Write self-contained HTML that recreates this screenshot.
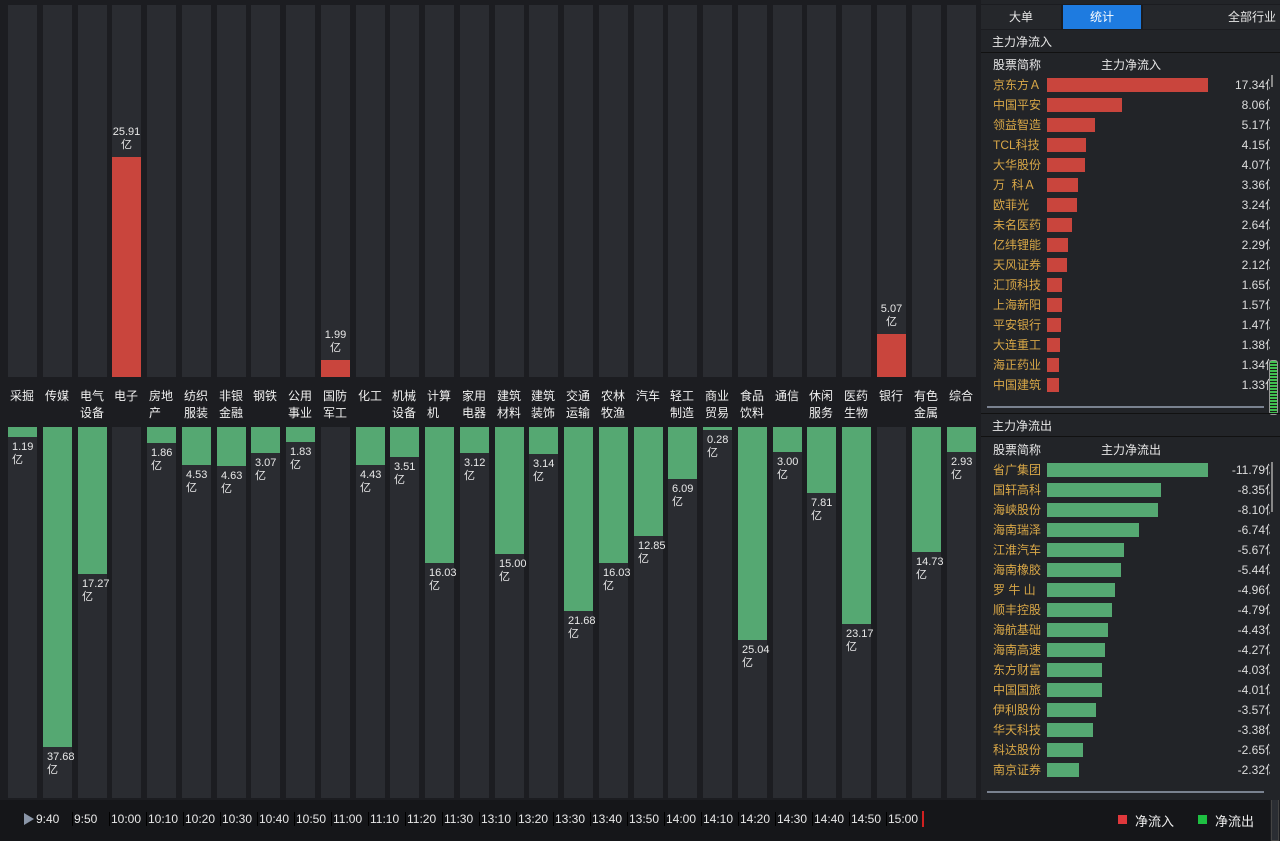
<!DOCTYPE html>
<html><head><meta charset="utf-8">
<style>
*{margin:0;padding:0;box-sizing:border-box}
body{width:1280px;height:841px;background:#1c1d21;overflow:hidden;position:relative;font-family:"Liberation Sans","Noto Sans CJK SC",sans-serif;color:#e6e6e6}
.c{position:absolute;width:29px;background:#2a2c31}
.t{top:5px;height:372px}
.b{top:427px;height:371px}
.r{position:absolute;background:#c9453d;width:29px}
.g{position:absolute;background:#55a872;width:29px}
.n{position:absolute;top:388px;font-size:12px;line-height:17px;width:34px;padding-left:2px;color:#f0f0f0}
.v{position:absolute;font-size:11px;line-height:13px;color:#e8e8e8;padding-left:4px;width:34px}
.vt{position:absolute;font-size:11px;line-height:13px;color:#e8e8e8;text-align:center;width:29px}
#rp{position:absolute;left:981px;top:0;width:299px;height:800px;background:#222428;overflow:hidden}
.row{position:absolute;left:0;width:296px;height:20px;font-size:12px;line-height:20px}
.row .nm{position:absolute;left:12px;color:#d8a747}
.row .br{position:absolute;left:66px;top:3px;height:14px}
.row .vl{position:absolute;right:0;width:80px;text-align:right;color:#ddd;overflow:hidden;white-space:nowrap}
.tl{position:absolute;top:812px;font-size:12px;color:#e8e8e8;border-left:1px solid #000;padding-left:1px}
.sb{position:absolute;left:289px;width:10px;background:#222428}
</style></head><body>

<div class="c t" style="left:8px"></div><div class="c t" style="left:43px"></div><div class="c t" style="left:78px"></div><div class="c t" style="left:112px"></div><div class="c t" style="left:147px"></div><div class="c t" style="left:182px"></div><div class="c t" style="left:217px"></div><div class="c t" style="left:251px"></div><div class="c t" style="left:286px"></div><div class="c t" style="left:321px"></div><div class="c t" style="left:356px"></div><div class="c t" style="left:390px"></div><div class="c t" style="left:425px"></div><div class="c t" style="left:460px"></div><div class="c t" style="left:495px"></div><div class="c t" style="left:529px"></div><div class="c t" style="left:564px"></div><div class="c t" style="left:599px"></div><div class="c t" style="left:634px"></div><div class="c t" style="left:668px"></div><div class="c t" style="left:703px"></div><div class="c t" style="left:738px"></div><div class="c t" style="left:773px"></div><div class="c t" style="left:807px"></div><div class="c t" style="left:842px"></div><div class="c t" style="left:877px"></div><div class="c t" style="left:912px"></div><div class="c t" style="left:947px"></div>
<div class="c b" style="left:8px"></div><div class="c b" style="left:43px"></div><div class="c b" style="left:78px"></div><div class="c b" style="left:112px"></div><div class="c b" style="left:147px"></div><div class="c b" style="left:182px"></div><div class="c b" style="left:217px"></div><div class="c b" style="left:251px"></div><div class="c b" style="left:286px"></div><div class="c b" style="left:321px"></div><div class="c b" style="left:356px"></div><div class="c b" style="left:390px"></div><div class="c b" style="left:425px"></div><div class="c b" style="left:460px"></div><div class="c b" style="left:495px"></div><div class="c b" style="left:529px"></div><div class="c b" style="left:564px"></div><div class="c b" style="left:599px"></div><div class="c b" style="left:634px"></div><div class="c b" style="left:668px"></div><div class="c b" style="left:703px"></div><div class="c b" style="left:738px"></div><div class="c b" style="left:773px"></div><div class="c b" style="left:807px"></div><div class="c b" style="left:842px"></div><div class="c b" style="left:877px"></div><div class="c b" style="left:912px"></div><div class="c b" style="left:947px"></div>

<div class="n" style="left:8px">采掘</div>
<div class="n" style="left:43px">传媒</div>
<div class="n" style="left:78px">电气<br>设备</div>
<div class="n" style="left:112px">电子</div>
<div class="n" style="left:147px">房地<br>产</div>
<div class="n" style="left:182px">纺织<br>服装</div>
<div class="n" style="left:217px">非银<br>金融</div>
<div class="n" style="left:251px">钢铁</div>
<div class="n" style="left:286px">公用<br>事业</div>
<div class="n" style="left:321px">国防<br>军工</div>
<div class="n" style="left:356px">化工</div>
<div class="n" style="left:390px">机械<br>设备</div>
<div class="n" style="left:425px">计算<br>机</div>
<div class="n" style="left:460px">家用<br>电器</div>
<div class="n" style="left:495px">建筑<br>材料</div>
<div class="n" style="left:529px">建筑<br>装饰</div>
<div class="n" style="left:564px">交通<br>运输</div>
<div class="n" style="left:599px">农林<br>牧渔</div>
<div class="n" style="left:634px">汽车</div>
<div class="n" style="left:668px">轻工<br>制造</div>
<div class="n" style="left:703px">商业<br>贸易</div>
<div class="n" style="left:738px">食品<br>饮料</div>
<div class="n" style="left:773px">通信</div>
<div class="n" style="left:807px">休闲<br>服务</div>
<div class="n" style="left:842px">医药<br>生物</div>
<div class="n" style="left:877px">银行</div>
<div class="n" style="left:912px">有色<br>金属</div>
<div class="n" style="left:947px">综合</div>

<div class="r" style="left:112px;top:157px;height:220px"></div><div class="vt" style="left:112px;top:126px">25.91<br>亿</div>
<div class="r" style="left:321px;top:360px;height:17px"></div><div class="vt" style="left:321px;top:329px">1.99<br>亿</div>
<div class="r" style="left:877px;top:334px;height:43px"></div><div class="vt" style="left:877px;top:303px">5.07<br>亿</div>

<div class="g" style="left:8px;top:427px;height:10px"></div><div class="v" style="left:8px;top:441px">1.19<br>亿</div>
<div class="g" style="left:43px;top:427px;height:320px"></div><div class="v" style="left:43px;top:751px">37.68<br>亿</div>
<div class="g" style="left:78px;top:427px;height:147px"></div><div class="v" style="left:78px;top:578px">17.27<br>亿</div>
<div class="g" style="left:147px;top:427px;height:16px"></div><div class="v" style="left:147px;top:447px">1.86<br>亿</div>
<div class="g" style="left:182px;top:427px;height:38px"></div><div class="v" style="left:182px;top:469px">4.53<br>亿</div>
<div class="g" style="left:217px;top:427px;height:39px"></div><div class="v" style="left:217px;top:470px">4.63<br>亿</div>
<div class="g" style="left:251px;top:427px;height:26px"></div><div class="v" style="left:251px;top:457px">3.07<br>亿</div>
<div class="g" style="left:286px;top:427px;height:15px"></div><div class="v" style="left:286px;top:446px">1.83<br>亿</div>
<div class="g" style="left:356px;top:427px;height:38px"></div><div class="v" style="left:356px;top:469px">4.43<br>亿</div>
<div class="g" style="left:390px;top:427px;height:30px"></div><div class="v" style="left:390px;top:461px">3.51<br>亿</div>
<div class="g" style="left:425px;top:427px;height:136px"></div><div class="v" style="left:425px;top:567px">16.03<br>亿</div>
<div class="g" style="left:460px;top:427px;height:26px"></div><div class="v" style="left:460px;top:457px">3.12<br>亿</div>
<div class="g" style="left:495px;top:427px;height:127px"></div><div class="v" style="left:495px;top:558px">15.00<br>亿</div>
<div class="g" style="left:529px;top:427px;height:27px"></div><div class="v" style="left:529px;top:458px">3.14<br>亿</div>
<div class="g" style="left:564px;top:427px;height:184px"></div><div class="v" style="left:564px;top:615px">21.68<br>亿</div>
<div class="g" style="left:599px;top:427px;height:136px"></div><div class="v" style="left:599px;top:567px">16.03<br>亿</div>
<div class="g" style="left:634px;top:427px;height:109px"></div><div class="v" style="left:634px;top:540px">12.85<br>亿</div>
<div class="g" style="left:668px;top:427px;height:52px"></div><div class="v" style="left:668px;top:483px">6.09<br>亿</div>
<div class="g" style="left:703px;top:427px;height:3px"></div><div class="v" style="left:703px;top:434px">0.28<br>亿</div>
<div class="g" style="left:738px;top:427px;height:213px"></div><div class="v" style="left:738px;top:644px">25.04<br>亿</div>
<div class="g" style="left:773px;top:427px;height:25px"></div><div class="v" style="left:773px;top:456px">3.00<br>亿</div>
<div class="g" style="left:807px;top:427px;height:66px"></div><div class="v" style="left:807px;top:497px">7.81<br>亿</div>
<div class="g" style="left:842px;top:427px;height:197px"></div><div class="v" style="left:842px;top:628px">23.17<br>亿</div>
<div class="g" style="left:912px;top:427px;height:125px"></div><div class="v" style="left:912px;top:556px">14.73<br>亿</div>
<div class="g" style="left:947px;top:427px;height:25px"></div><div class="v" style="left:947px;top:456px">2.93<br>亿</div>

<div style="position:absolute;left:0;top:800px;width:1270px;height:41px;background:#151619"></div>
<div style="position:absolute;left:24px;top:813px;width:0;height:0;border-top:6px solid transparent;border-bottom:6px solid transparent;border-left:10px solid #8a96a8"></div>
<div class="tl" style="left:35px;border:none">9:40</div>
<div class="tl" style="left:72px">9:50</div>
<div class="tl" style="left:109px">10:00</div>
<div class="tl" style="left:146px">10:10</div>
<div class="tl" style="left:183px">10:20</div>
<div class="tl" style="left:220px">10:30</div>
<div class="tl" style="left:257px">10:40</div>
<div class="tl" style="left:294px">10:50</div>
<div class="tl" style="left:331px">11:00</div>
<div class="tl" style="left:368px">11:10</div>
<div class="tl" style="left:405px">11:20</div>
<div class="tl" style="left:442px">11:30</div>
<div class="tl" style="left:479px">13:10</div>
<div class="tl" style="left:516px">13:20</div>
<div class="tl" style="left:553px">13:30</div>
<div class="tl" style="left:590px">13:40</div>
<div class="tl" style="left:627px">13:50</div>
<div class="tl" style="left:664px">14:00</div>
<div class="tl" style="left:701px">14:10</div>
<div class="tl" style="left:738px">14:20</div>
<div class="tl" style="left:775px">14:30</div>
<div class="tl" style="left:812px">14:40</div>
<div class="tl" style="left:849px">14:50</div>
<div class="tl" style="left:886px">15:00</div>
<div style="position:absolute;left:922px;top:811px;width:2px;height:16px;background:#d02020"></div>
<div style="position:absolute;left:1118px;top:815px;width:9px;height:9px;background:#e0383c"></div>
<div style="position:absolute;left:1135px;top:811px;font-size:13px;color:#eee">净流入</div>
<div style="position:absolute;left:1198px;top:815px;width:9px;height:9px;background:#1ec042"></div>
<div style="position:absolute;left:1215px;top:811px;font-size:13px;color:#eee">净流出</div>
<div style="position:absolute;left:1271px;top:797px;width:8px;height:44px;background:#2a2d33;border:1px solid #444"></div>

<div id="rp">
 <div style="position:absolute;left:0;top:4px;width:299px;height:26px;background:#1b1c20"></div>
 <div style="position:absolute;left:0;top:5px;width:80px;height:24px;background:#25272b;font-size:12px;line-height:24px;text-align:center">大单</div>
 <div style="position:absolute;left:82px;top:5px;width:78px;height:24px;background:#1e7be0;font-size:12px;line-height:24px;text-align:center;color:#fff">统计</div>
 <div style="position:absolute;left:162px;top:5px;width:137px;height:24px;background:#25272b;font-size:12px;line-height:24px;text-align:right;padding-right:4px">全部行业</div>
 <div style="position:absolute;left:11px;top:33px;font-size:12px;line-height:18px">主力净流入</div>
 <div style="position:absolute;left:0;top:52px;width:299px;height:1px;background:#111"></div>
 <div style="position:absolute;left:12px;top:56px;font-size:12px;line-height:18px">股票简称</div>
 <div style="position:absolute;left:120px;top:56px;font-size:12px;line-height:18px">主力净流入</div>

 <div class="row" style="top:75px"><span class="nm">京东方Ａ</span><div class="br" style="width:161px;background:#c9453d"></div><span class="vl">17.34亿</span></div>
 <div class="row" style="top:95px"><span class="nm">中国平安</span><div class="br" style="width:75px;background:#c9453d"></div><span class="vl">8.06亿</span></div>
 <div class="row" style="top:115px"><span class="nm">领益智造</span><div class="br" style="width:48px;background:#c9453d"></div><span class="vl">5.17亿</span></div>
 <div class="row" style="top:135px"><span class="nm">TCL科技</span><div class="br" style="width:39px;background:#c9453d"></div><span class="vl">4.15亿</span></div>
 <div class="row" style="top:155px"><span class="nm">大华股份</span><div class="br" style="width:38px;background:#c9453d"></div><span class="vl">4.07亿</span></div>
 <div class="row" style="top:175px"><span class="nm">万&nbsp;&nbsp;科Ａ</span><div class="br" style="width:31px;background:#c9453d"></div><span class="vl">3.36亿</span></div>
 <div class="row" style="top:195px"><span class="nm">欧菲光</span><div class="br" style="width:30px;background:#c9453d"></div><span class="vl">3.24亿</span></div>
 <div class="row" style="top:215px"><span class="nm">未名医药</span><div class="br" style="width:25px;background:#c9453d"></div><span class="vl">2.64亿</span></div>
 <div class="row" style="top:235px"><span class="nm">亿纬锂能</span><div class="br" style="width:21px;background:#c9453d"></div><span class="vl">2.29亿</span></div>
 <div class="row" style="top:255px"><span class="nm">天风证券</span><div class="br" style="width:20px;background:#c9453d"></div><span class="vl">2.12亿</span></div>
 <div class="row" style="top:275px"><span class="nm">汇顶科技</span><div class="br" style="width:15px;background:#c9453d"></div><span class="vl">1.65亿</span></div>
 <div class="row" style="top:295px"><span class="nm">上海新阳</span><div class="br" style="width:15px;background:#c9453d"></div><span class="vl">1.57亿</span></div>
 <div class="row" style="top:315px"><span class="nm">平安银行</span><div class="br" style="width:14px;background:#c9453d"></div><span class="vl">1.47亿</span></div>
 <div class="row" style="top:335px"><span class="nm">大连重工</span><div class="br" style="width:13px;background:#c9453d"></div><span class="vl">1.38亿</span></div>
 <div class="row" style="top:355px"><span class="nm">海正药业</span><div class="br" style="width:12px;background:#c9453d"></div><span class="vl">1.34亿</span></div>
 <div class="row" style="top:375px"><span class="nm">中国建筑</span><div class="br" style="width:12px;background:#c9453d"></div><span class="vl">1.33亿</span></div>
 <div style="position:absolute;left:6px;top:406px;width:277px;height:2px;background:#7a8290"></div>
 <div class="sb" style="top:70px;height:340px"></div>
 <div style="position:absolute;left:290px;top:75px;width:2px;height:12px;background:#888"></div>
 <div style="position:absolute;left:288px;top:360px;width:9px;height:55px;border:1px solid #999;border-radius:3px;background:repeating-linear-gradient(#3fbf4f 0 2px,#1a1a1a 2px 3px)"></div>
 <div style="position:absolute;left:0;top:413px;width:299px;height:1px;background:#111"></div>

 <div style="position:absolute;left:11px;top:417px;font-size:12px;line-height:18px">主力净流出</div>
 <div style="position:absolute;left:0;top:436px;width:299px;height:1px;background:#111"></div>
 <div style="position:absolute;left:12px;top:441px;font-size:12px;line-height:18px">股票简称</div>
 <div style="position:absolute;left:120px;top:441px;font-size:12px;line-height:18px">主力净流出</div>

 <div class="row" style="top:460px"><span class="nm">省广集团</span><div class="br" style="width:161px;background:#55a872"></div><span class="vl">-11.79亿</span></div>
 <div class="row" style="top:480px"><span class="nm">国轩高科</span><div class="br" style="width:114px;background:#55a872"></div><span class="vl">-8.35亿</span></div>
 <div class="row" style="top:500px"><span class="nm">海峡股份</span><div class="br" style="width:111px;background:#55a872"></div><span class="vl">-8.10亿</span></div>
 <div class="row" style="top:520px"><span class="nm">海南瑞泽</span><div class="br" style="width:92px;background:#55a872"></div><span class="vl">-6.74亿</span></div>
 <div class="row" style="top:540px"><span class="nm">江淮汽车</span><div class="br" style="width:77px;background:#55a872"></div><span class="vl">-5.67亿</span></div>
 <div class="row" style="top:560px"><span class="nm">海南橡胶</span><div class="br" style="width:74px;background:#55a872"></div><span class="vl">-5.44亿</span></div>
 <div class="row" style="top:580px"><span class="nm">罗&nbsp;牛&nbsp;山</span><div class="br" style="width:68px;background:#55a872"></div><span class="vl">-4.96亿</span></div>
 <div class="row" style="top:600px"><span class="nm">顺丰控股</span><div class="br" style="width:65px;background:#55a872"></div><span class="vl">-4.79亿</span></div>
 <div class="row" style="top:620px"><span class="nm">海航基础</span><div class="br" style="width:61px;background:#55a872"></div><span class="vl">-4.43亿</span></div>
 <div class="row" style="top:640px"><span class="nm">海南高速</span><div class="br" style="width:58px;background:#55a872"></div><span class="vl">-4.27亿</span></div>
 <div class="row" style="top:660px"><span class="nm">东方财富</span><div class="br" style="width:55px;background:#55a872"></div><span class="vl">-4.03亿</span></div>
 <div class="row" style="top:680px"><span class="nm">中国国旅</span><div class="br" style="width:55px;background:#55a872"></div><span class="vl">-4.01亿</span></div>
 <div class="row" style="top:700px"><span class="nm">伊利股份</span><div class="br" style="width:49px;background:#55a872"></div><span class="vl">-3.57亿</span></div>
 <div class="row" style="top:720px"><span class="nm">华天科技</span><div class="br" style="width:46px;background:#55a872"></div><span class="vl">-3.38亿</span></div>
 <div class="row" style="top:740px"><span class="nm">科达股份</span><div class="br" style="width:36px;background:#55a872"></div><span class="vl">-2.65亿</span></div>
 <div class="row" style="top:760px"><span class="nm">南京证券</span><div class="br" style="width:32px;background:#55a872"></div><span class="vl">-2.32亿</span></div>
 <div style="position:absolute;left:6px;top:791px;width:277px;height:2px;background:#7a8290"></div>
 <div class="sb" style="top:455px;height:330px"></div>
 <div style="position:absolute;left:290px;top:462px;width:2px;height:50px;background:#888"></div>
</div>
</body></html>
